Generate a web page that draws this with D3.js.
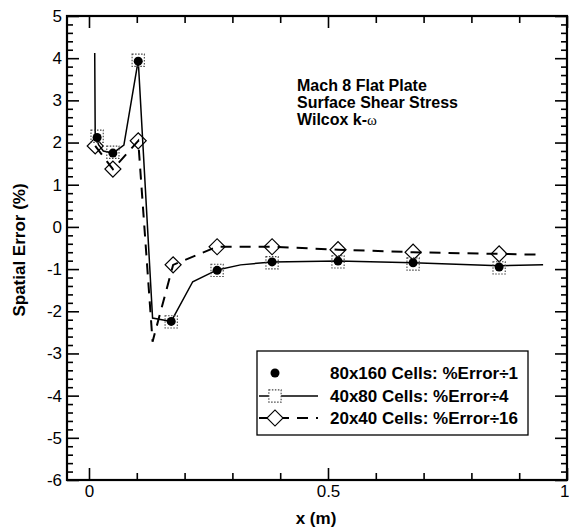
<!DOCTYPE html>
<html>
<head>
<meta charset="utf-8">
<script src="https://cdn.jsdelivr.net/npm/d3@7"></script>
<style>
  html, body { margin: 0; padding: 0; background: #fff; }
  svg { display: block; }
  text { font-family: "Liberation Sans", Arial, Helvetica, sans-serif; fill: #000; }
</style>
</head>
<body>
<svg id="chart" width="569" height="530"></svg>
<script>
// ---------- data ----------
// 80x160 cells (filled circles, no line)
const x80 = [0.017, 0.050, 0.103, 0.172, 0.268, 0.383, 0.521, 0.678, 0.858];
const y80 = [2.12, 1.75, 3.93, -2.24, -1.03, -0.83, -0.81, -0.85, -0.95];
// 40x80 cells (solid line, dotted square markers)
const x40Line = [0.012, 0.013, 0.020, 0.030, 0.050, 0.073, 0.103, 0.133, 0.172, 0.217, 0.268, 0.317, 0.383, 0.521, 0.678, 0.858, 0.950];
const y40Line = [4.12, 2.20, 1.95, 1.80, 1.75, 1.94, 3.95, -2.16, -2.24, -1.30, -1.02, -0.90, -0.83, -0.81, -0.85, -0.92, -0.90];
const x40 = [0.017, 0.050, 0.103, 0.172, 0.268, 0.383, 0.521, 0.678, 0.858];
const y40 = [2.15, 1.77, 3.95, -2.25, -1.03, -0.85, -0.83, -0.88, -0.97];
// 20x40 cells (dashed line, diamond markers)
const x20Line = [0.013, 0.050, 0.103, 0.133, 0.176, 0.268, 0.383, 0.521, 0.678, 0.858, 0.950];
const y20Line = [1.92, 1.37, 2.04, -2.72, -0.90, -0.47, -0.47, -0.54, -0.60, -0.64, -0.66];
const x20 = [0.013, 0.050, 0.103, 0.176, 0.268, 0.383, 0.521, 0.678, 0.858];
const y20 = [1.92, 1.37, 2.04, -0.90, -0.47, -0.47, -0.54, -0.60, -0.64];

const xMajorTicks = [0, 0.5, 1];
const xMinorTicks = [0.1, 0.2, 0.3, 0.4, 0.6, 0.7, 0.8, 0.9];
const yMajorTicks = [-6, -5, -4, -3, -2, -1, 0, 1, 2, 3, 4, 5];
const yMinorTicks = d3.range(-6, 5.0001, 0.2).map(v => +v.toFixed(1)).filter(v => Math.abs(v - Math.round(v)) > 1e-6);

const titleLines = ["Mach 8 Flat Plate", "Surface Shear Stress", "Wilcox k-"];
const legendLabels = ["80x160 Cells: %Error\u00f71", "40x80 Cells: %Error\u00f74", "20x40 Cells: %Error\u00f716"];
const xTitle = "x (m)";
const yTitle = "Spatial Error (%)";

// ---------- layout ----------
const L = 67, R = 567, T = 16, B = 480;
const svg = d3.select("#chart");
const x = d3.scaleLinear().domain([-0.046, 1]).range([L, R]);
const y = d3.scaleLinear().domain([-6, 5]).range([B, T]);
const fmt = d => String(d);

function styleAxis(g) {
  g.select(".domain").remove();
  g.selectAll(".tick line").attr("stroke", "#000").attr("stroke-width", 1.6);
  g.selectAll(".tick text").style("font-size", "17px").attr("fill", "#000")
    .style("font-family", "'Liberation Sans', Arial, sans-serif");
}

// bottom
const bottomAxis = svg.append("g").attr("transform", `translate(0,${B})`)
  .call(d3.axisBottom(x).tickValues(xMajorTicks).tickFormat(fmt).tickSizeInner(-12).tickSizeOuter(0).tickPadding(5))
  .call(styleAxis);
// keep the last label ("1") inside the picture edge
bottomAxis.selectAll(".tick text").filter(d => d === 1).attr("text-anchor", "end").attr("x", 2);
svg.append("g").attr("transform", `translate(0,${B})`)
  .call(d3.axisBottom(x).tickValues(xMinorTicks).tickFormat("").tickSizeInner(-7).tickSizeOuter(0))
  .call(styleAxis);
// top
svg.append("g").attr("transform", `translate(0,${T})`)
  .call(d3.axisTop(x).tickValues(xMajorTicks).tickFormat("").tickSizeInner(-12).tickSizeOuter(0))
  .call(styleAxis);
svg.append("g").attr("transform", `translate(0,${T})`)
  .call(d3.axisTop(x).tickValues(xMinorTicks).tickFormat("").tickSizeInner(-7).tickSizeOuter(0))
  .call(styleAxis);
// left
svg.append("g").attr("transform", `translate(${L},0)`)
  .call(d3.axisLeft(y).tickValues(yMajorTicks).tickFormat(fmt).tickSizeInner(-12).tickSizeOuter(0).tickPadding(5))
  .call(styleAxis);
svg.append("g").attr("transform", `translate(${L},0)`)
  .call(d3.axisLeft(y).tickValues(yMinorTicks).tickFormat("").tickSizeInner(-6).tickSizeOuter(0))
  .call(styleAxis);
// right
svg.append("g").attr("transform", `translate(${R},0)`)
  .call(d3.axisRight(y).tickValues(yMajorTicks).tickFormat("").tickSizeInner(-12).tickSizeOuter(0))
  .call(styleAxis);
svg.append("g").attr("transform", `translate(${R},0)`)
  .call(d3.axisRight(y).tickValues(yMinorTicks).tickFormat("").tickSizeInner(-6).tickSizeOuter(0))
  .call(styleAxis);

// frame
svg.append("rect").attr("x", L).attr("y", T).attr("width", R - L).attr("height", B - T)
  .attr("fill", "none").attr("stroke", "#000").attr("stroke-width", 2.2);

// axis titles
svg.append("text").attr("x", 316).attr("y", 524).attr("text-anchor", "middle")
  .style("font-size", "17px").style("font-weight", "bold").text(xTitle);
svg.append("text").attr("transform", "translate(25,250) rotate(-90)").attr("text-anchor", "middle")
  .style("font-size", "17px").style("font-weight", "bold").text(yTitle);

// ---------- series ----------
const line = d3.line().x(d => x(d[0])).y(d => y(d[1]));
const d20 = x20Line.map((v, i) => [v, y20Line[i]]);
const d40 = x40Line.map((v, i) => [v, y40Line[i]]);

svg.append("path").datum(d20).attr("d", line).attr("fill", "none")
  .attr("stroke", "#000").attr("stroke-width", 2).attr("stroke-dasharray", "11,8");

const diamond = d3.symbol().type(d3.symbolSquare).size(128);
svg.append("g").selectAll("path").data(x20.map((v, i) => [v, y20[i]])).join("path")
  .attr("d", diamond)
  .attr("transform", d => `translate(${x(d[0])},${y(d[1])}) rotate(45)`)
  .attr("fill", "none").attr("stroke", "#000").attr("stroke-width", 1.2);

svg.append("path").datum(d40).attr("d", line).attr("fill", "none")
  .attr("stroke", "#000").attr("stroke-width", 1.5);

const square = d3.symbol().type(d3.symbolSquare).size(150);
svg.append("g").selectAll("path").data(x40.map((v, i) => [v, y40[i]])).join("path")
  .attr("d", square)
  .attr("transform", d => `translate(${x(d[0])},${y(d[1])})`)
  .attr("fill", "none").attr("stroke", "#444").attr("stroke-width", 1.1).attr("stroke-dasharray", "1.5,1.5");

svg.append("g").selectAll("circle").data(x80.map((v, i) => [v, y80[i]])).join("circle")
  .attr("cx", d => x(d[0])).attr("cy", d => y(d[1])).attr("r", 4.5).attr("fill", "#000");

// ---------- annotation ----------
const tg = svg.append("g");
titleLines.forEach((t, i) => {
  const tx = tg.append("text").attr("x", 297).attr("y", 91 + i * 17)
    .style("font-size", "16px").style("font-weight", "bold").text(t);
  if (i === 2) tx.append("tspan").style("font-family", "'Liberation Serif', 'DejaVu Serif', serif")
    .style("font-weight", "normal").style("font-size", "15px").text("\u03c9");
});

// ---------- legend ----------
const lg = svg.append("g");
lg.append("rect").attr("x", 257).attr("y", 351).attr("width", 271).attr("height", 84)
  .attr("fill", "#fff").attr("stroke", "#000").attr("stroke-width", 1.3);
const rowY = [373, 396, 418];
legendLabels.forEach((t, i) => {
  lg.append("text").attr("x", 330).attr("y", rowY[i] + 6)
    .style("font-size", "17px").style("font-weight", "bold").text(t);
});
lg.append("circle").attr("cx", 275).attr("cy", rowY[0]).attr("r", 4.5).attr("fill", "#000");
lg.append("line").attr("x1", 259).attr("x2", 318).attr("y1", rowY[1]).attr("y2", rowY[1])
  .attr("stroke", "#000").attr("stroke-width", 1.5);
lg.append("path").attr("d", square).attr("transform", `translate(275,${rowY[1]})`)
  .attr("fill", "#fff").attr("stroke", "#444").attr("stroke-width", 1.1).attr("stroke-dasharray", "1.5,1.5");
lg.append("line").attr("x1", 259).attr("x2", 318).attr("y1", rowY[2]).attr("y2", rowY[2])
  .attr("stroke", "#000").attr("stroke-width", 2).attr("stroke-dasharray", "11,8");
lg.append("path").attr("d", diamond).attr("transform", `translate(275,${rowY[2]}) rotate(45)`)
  .attr("fill", "#fff").attr("stroke", "#000").attr("stroke-width", 1.2);
</script>
</body>
</html>
